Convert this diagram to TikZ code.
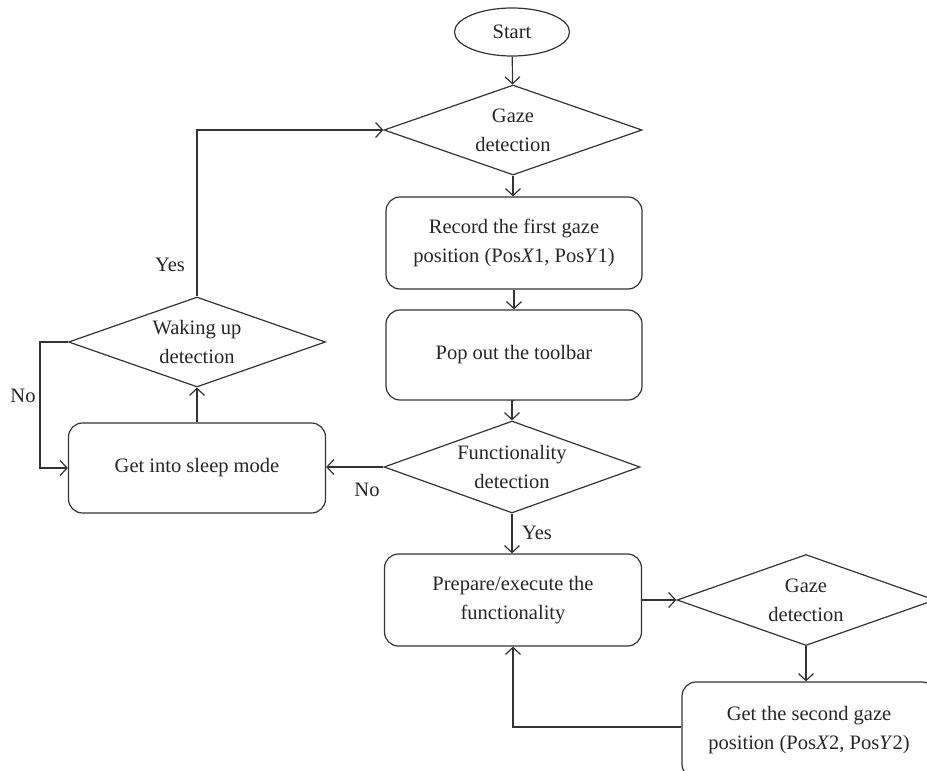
\documentclass[tikz,border=0pt]{standalone}
\usepackage{fontspec}
\setmainfont{Liberation Serif}
\usetikzlibrary{shapes.geometric,arrows.meta}
\begin{document}
\begin{tikzpicture}[x=1pt,y=-1pt,
  line width=1.2pt,
  every node/.style={font=\fontsize{20.5}{29}\selectfont, text=black!85},
  conn/.style={draw=black!80, -{Straight Barb[length=7pt,width=15pt,line width=1.2pt]}},
  box/.style={draw=black!80, rounded corners=14pt, align=center, inner sep=0pt},
  dia/.style={draw=black!80, diamond, aspect=2.85, align=center, inner sep=0pt},
  lbl/.style={inner sep=0pt}]
\useasboundingbox (0,0) rectangle (927,771);
\clip (0,0) rectangle (927,771);

\node[draw=black!80, ellipse, minimum width=115pt, minimum height=48pt, inner sep=0pt] (start) at (512,32) {Start};
\node[dia, minimum width=258pt, minimum height=90pt] (g1) at (513,130) {Gaze\\detection};
\node[box, minimum width=256pt, minimum height=92pt] (rec) at (514,243) {Record the first gaze\\position (Pos\textit{X}1, Pos\textit{Y}1)};
\node[box, minimum width=256pt, minimum height=90pt] (pop) at (514,355) {Pop out the toolbar};
\node[dia, minimum width=256pt, minimum height=92pt] (func) at (512,467) {Functionality\\detection};
\node[box, minimum width=257pt, minimum height=92pt] (prep) at (513,600) {Prepare/execute the\\functionality};
\node[dia, minimum width=258pt, minimum height=91pt] (g2) at (806,600) {Gaze\\detection};
\node[box, minimum width=254pt, minimum height=96pt] (second) at (809,730) {Get the second gaze\\position (Pos\textit{X}2, Pos\textit{Y}2)};
\node[dia, minimum width=257pt, minimum height=90pt] (wake) at (197,342) {Waking up\\detection};
\node[box, minimum width=257pt, minimum height=90pt] (sleep) at (197,468) {Get into sleep mode};

\coordinate (noleft) at (40,342);

\draw[conn] (start) -- (g1);
\draw[conn] (g1.south) -- (g1.south |- rec.north);
\draw[conn] (rec) -- (pop);
\draw[conn] (pop.south) -- (pop.south -| func.north) -- (func.north);
\draw[conn] (func.south) -- (func.south |- prep.north);
\draw[conn] (func.west) -- (func.west -| sleep.east);
\draw[conn] (sleep) -- (wake);
\draw[conn] (wake.west) -- (noleft) |- (sleep.west);
\draw[conn] (wake.north) |- (g1.west);
\draw[conn] (prep.east) -- (g2.west);
\draw[conn] (g2.south) -- (g2.south |- second.north);
\draw[conn] (second.west |- 0,727) -| (prep.south);

\node[lbl] (yes1) at (537,533) {Yes};
\node[lbl] (no1) at (367,490) {No};
\node[lbl] (no2) at (23,396) {No};
\node[lbl] (yes2) at (170,265) {Yes};
\end{tikzpicture}
\end{document}
